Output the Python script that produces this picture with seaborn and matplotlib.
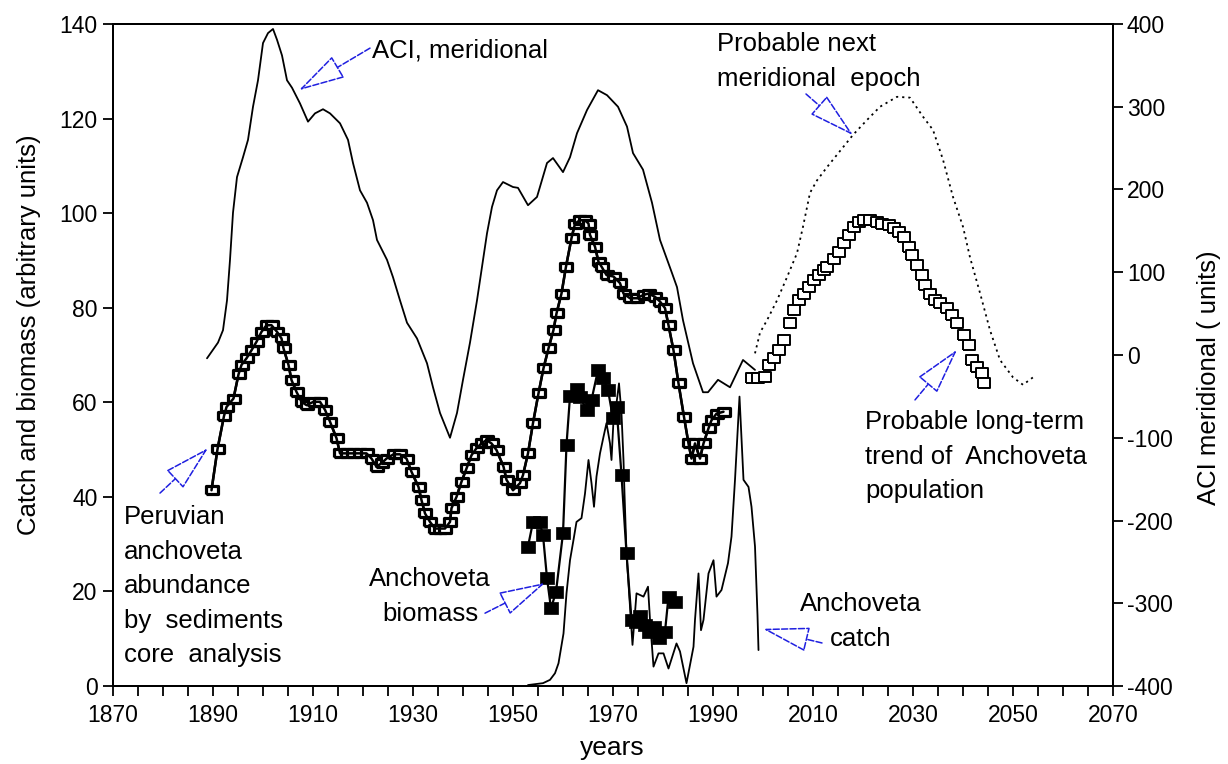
import numpy as np
import matplotlib
matplotlib.use("Agg")
import matplotlib.pyplot as plt
import seaborn as sns

# ---------------- data ----------------
# ACI meridional (right axis), observed
aci_years = [1888.8, 1891.0, 1892.0, 1892.8, 1893.4, 1894.0, 1894.8, 1896.0, 1897.0, 1898.0,
             1899.0, 1900.0, 1901.0, 1902.0, 1902.8, 1903.8, 1904.8, 1905.8, 1907.4, 1909.0,
             1910.4, 1912.0, 1913.4, 1915.4, 1917.0, 1918.0, 1919.4, 1920.8, 1922.0, 1922.8,
             1924.8, 1926.0, 1927.4, 1928.8, 1930.8, 1932.0, 1932.8, 1934.0, 1935.4, 1937.4,
             1938.8, 1940.0, 1941.4, 1942.8, 1944.8, 1945.8, 1946.8, 1948.0, 1950.0, 1951.0,
             1953.0, 1954.8, 1956.8, 1958.0, 1960.0, 1961.4, 1962.8, 1964.8, 1967.0, 1968.8,
             1971.0, 1972.8, 1974.0, 1976.0, 1977.8, 1979.4, 1981.8, 1982.8, 1984.0, 1986.0,
             1988.0, 1989.0, 1991.0, 1993.4, 1996.0, 1998.4]
aci_vals = [-4, 15, 30, 66, 115, 172, 215, 239, 260, 300,
            332, 377, 389, 394, 381, 362, 332, 323, 304, 282,
            292, 297, 292, 280, 260, 232, 199, 184, 163, 139,
            115, 94, 66, 39, 20, 2, -10, -39, -70, -100,
            -70, -30, 15, 66, 147, 179, 199, 209, 203, 202,
            181, 191, 232, 238, 221, 239, 268, 296, 320, 314,
            300, 276, 244, 224, 184, 139, 99, 82, 42, -10,
            -45, -45, -30, -39, -6, -18]

# ACI meridional, probable next epoch (dotted)
fc_years = [1998.4, 1999.4, 2000.8, 2002.8, 2004.8, 2006.8, 2008.0, 2009.4, 2010.8, 2012.8,
            2016.0, 2018.0, 2020.8, 2023.4, 2026.8, 2029.4, 2032.0, 2034.0, 2036.0, 2038.0,
            2040.0, 2041.4, 2043.4, 2045.4, 2047.4, 2050.0, 2052.0, 2054.0]
fc_vals = [2, 27, 42, 66, 94, 123, 155, 196, 211, 227,
           251, 266, 284, 300, 312, 311, 288, 272, 236, 191,
           155, 118, 75, 30, -6, -27, -36, -27]

# Peruvian anchoveta abundance by sediments core analysis
sed_years = [1889.7, 1890.9, 1892.2, 1892.7, 1894.1, 1895.1, 1895.7, 1896.7, 1897.7, 1898.7,
             1899.7, 1900.7, 1901.7, 1902.8, 1903.7, 1904.1, 1905.1, 1905.7, 1906.7, 1907.7,
             1908.7, 1910.1, 1911.4, 1912.4, 1913.4, 1914.7, 1915.4, 1916.7, 1918.0, 1919.4,
             1920.7, 1921.7, 1922.7, 1923.7, 1924.7, 1926.1, 1927.4, 1928.7, 1929.7, 1931.1,
             1931.7, 1932.4, 1933.4, 1934.4, 1935.4, 1936.4, 1937.4, 1937.7, 1938.7, 1939.7,
             1940.7, 1941.7, 1942.7, 1943.7, 1944.7, 1945.7, 1946.7, 1948.1, 1948.7, 1950.0,
             1951.4, 1952.0, 1953.0, 1954.0, 1955.1, 1956.1, 1957.1, 1958.1, 1958.7, 1959.7,
             1960.6, 1961.7, 1962.4, 1963.4, 1964.4, 1965.1, 1965.4, 1966.4, 1967.1, 1967.7,
             1968.7, 1970.1, 1971.4, 1972.1, 1973.4, 1974.7, 1976.1, 1977.1, 1978.4, 1979.4,
             1980.4, 1981.1, 1982.1, 1983.1, 1984.2, 1985.1, 1985.7, 1986.4, 1987.4, 1988.1,
             1989.1, 1989.7, 1990.7, 1992.1]
sed_vals = [41.4, 50.1, 57.1, 59.0, 60.8, 65.9, 67.9, 69.3, 71.0, 72.8,
            74.9, 76.3, 76.3, 74.9, 73.5, 71.4, 67.9, 64.7, 62.2, 60.1,
            59.4, 60.1, 60.1, 58.4, 55.9, 52.4, 49.2, 49.2, 49.2, 49.2,
            49.2, 48.1, 46.4, 47.1, 48.1, 49.0, 49.0, 48.1, 45.3, 42.1,
            39.3, 36.5, 34.7, 33.3, 33.3, 33.3, 34.7, 37.6, 40.0, 43.2,
            46.0, 48.8, 50.3, 51.3, 52.0, 51.3, 49.9, 46.4, 43.6, 41.4,
            42.9, 44.6, 49.2, 55.6, 61.9, 67.2, 71.4, 75.3, 78.8, 83.0,
            88.7, 94.7, 97.8, 98.5, 98.5, 97.8, 95.4, 92.9, 89.7, 88.7,
            86.9, 86.6, 85.2, 83.0, 82.0, 82.0, 82.7, 83.0, 82.3, 81.3,
            79.9, 76.3, 71.0, 64.0, 56.9, 51.3, 48.1, 51.3, 48.1, 51.3,
            54.5, 56.2, 57.6, 58.0]

# Probable long-term trend of Anchoveta population (open squares)
fut_years = [1997.7, 1999.0, 2000.4, 2001.1, 2002.1, 2003.1, 2004.1, 2005.4, 2006.1, 2007.1,
             2008.1, 2009.1, 2010.1, 2011.1, 2012.1, 2012.7, 2014.1, 2015.1, 2016.1, 2017.1,
             2018.1, 2019.1, 2020.1, 2021.4, 2022.7, 2023.7, 2025.1, 2026.1, 2027.1, 2028.1,
             2029.1, 2029.7, 2030.7, 2031.7, 2032.4, 2033.4, 2034.4, 2035.4, 2036.7, 2037.7,
             2038.7, 2040.1, 2041.1, 2041.7, 2042.7, 2043.7, 2044.1]
fut_vals = [65.1, 65.1, 65.4, 67.9, 69.3, 71.0, 73.2, 76.7, 79.5, 81.6,
            83.0, 84.4, 85.9, 86.9, 88.0, 88.7, 90.4, 91.8, 93.6, 95.4,
            97.1, 98.2, 98.5, 98.5, 98.2, 97.8, 97.5, 96.8, 96.1, 95.0,
            92.9, 91.1, 89.0, 86.9, 84.8, 83.0, 81.6, 80.9, 79.9, 78.5,
            76.7, 74.2, 72.1, 68.9, 67.5, 66.1, 64.0]

# Anchoveta biomass (filled squares)
bio_years = [1953.0, 1954.0, 1955.3, 1956.0, 1956.8, 1957.6, 1958.6, 1960.0, 1960.7, 1961.4,
             1962.7, 1963.4, 1964.7, 1965.7, 1967.0, 1968.0, 1969.0, 1970.0, 1970.7, 1971.7,
             1972.7, 1973.7, 1974.5, 1975.4, 1976.4, 1977.2, 1978.1, 1979.1, 1980.4, 1981.1,
             1982.4]
bio_vals = [29.5, 34.7, 34.7, 31.9, 22.8, 16.4, 19.9, 32.3, 51.0, 61.3,
            62.9, 61.2, 58.4, 60.5, 66.8, 65.1, 62.6, 56.6, 59.1, 44.6,
            28.1, 14.0, 13.5, 14.7, 12.9, 11.5, 12.5, 10.1, 11.5, 18.9,
            17.8]

# Anchoveta catch (thin line)
catch_years = [1953.0, 1956.0, 1957.4, 1958.4, 1959.1, 1960.1, 1960.7, 1961.4, 1962.1, 1962.7,
               1963.7, 1964.4, 1965.1, 1965.7, 1966.2, 1966.7, 1967.4, 1968.1, 1968.7, 1969.4,
               1969.7, 1970.1, 1970.7, 1971.2, 1971.7, 1972.1, 1972.3, 1972.7, 1973.4, 1973.9,
               1974.7, 1976.1, 1977.0, 1977.4, 1978.1, 1979.1, 1980.1, 1981.1, 1982.7, 1983.4,
               1984.7, 1986.1, 1986.4, 1987.1, 1987.6, 1988.1, 1989.1, 1990.1, 1990.7, 1991.7,
               1993.0, 1993.7, 1994.4, 1995.3, 1996.1, 1997.1, 1997.7, 1998.4, 1998.9, 1999.1]
catch_vals = [0.2, 0.6, 1.3, 2.7, 4.8, 11.1, 19.6, 26.6, 30.9, 34.7,
              35.5, 40.7, 47.8, 42.9, 37.9, 44.3, 49.2, 52.7, 55.6, 51.3,
              47.8, 56.2, 59.8, 64.0, 57.6, 47.8, 40.7, 28.1, 16.8, 8.7,
              19.6, 18.9, 21.0, 14.0, 4.1, 6.9, 6.9, 3.7, 9.0, 7.3,
              0.6, 8.3, 14.0, 23.8, 11.8, 14.0, 23.8, 26.6, 18.9, 20.3,
              26.0, 31.6, 43.6, 61.2, 43.6, 42.1, 37.9, 29.5, 15.0, 7.6]

x_tick_years = list(range(1870, 2071, 5))
x_label_years = list(range(1870, 2071, 20))
left_ticks = list(range(0, 141, 20))
right_ticks = list(range(-400, 401, 100))

# ---------------- style ----------------
sns.set_theme(style="ticks")
plt.rcParams['font.family'] = ['Liberation Sans', 'DejaVu Sans']
plt.rcParams.update({
    'text.color': 'black', 'axes.labelcolor': 'black',
    'xtick.color': 'black', 'ytick.color': 'black',
    'axes.edgecolor': 'black', 'axes.linewidth': 1.4,
    'axes.unicode_minus': False,
})

fig = plt.figure(figsize=(12.28, 7.64), dpi=100)
ax = fig.add_axes([113 / 1228, 1 - 686 / 764, 1000 / 1228, 662 / 764])
ax2 = ax.twinx()

rect_wide = [(-1.5, -1), (1.5, -1), (1.5, 1), (-1.5, 1), (-1.5, -1)]
rect_mid = [(-1.25, -1), (1.25, -1), (1.25, 1), (-1.25, 1), (-1.25, -1)]

# sediment series: markers then line on top
sns.lineplot(x=sed_years, y=sed_vals, ax=ax, sort=False, estimator=None,
             color='black', lw=1.8, marker=rect_wide, markersize=8.6,
             mfc='white', mec='black', mew=2.3, zorder=3)
sns.lineplot(x=sed_years, y=sed_vals, ax=ax, sort=False, estimator=None,
             color='black', lw=1.8, zorder=4)

# future trend open squares
sns.scatterplot(x=fut_years, y=fut_vals, ax=ax, marker=rect_mid, s=85,
                facecolor='white', edgecolor='black', linewidth=1.4, zorder=3)

# catch
sns.lineplot(x=catch_years, y=catch_vals, ax=ax, sort=False, estimator=None,
             color='black', lw=1.3, zorder=2)

# biomass
sns.lineplot(x=bio_years, y=bio_vals, ax=ax, sort=False, estimator=None,
             color='black', lw=1.6, marker=rect_mid, markersize=10,
             mfc='black', mec='black', mew=0.5, zorder=3)

# ACI
sns.lineplot(x=aci_years, y=aci_vals, ax=ax2, sort=False, estimator=None,
             color='black', lw=1.3)
sns.lineplot(x=fc_years, y=fc_vals, ax=ax2, sort=False, estimator=None,
             color='black', lw=1.3, linestyle=(0, (1.2, 2.2)))

# ---------------- axes ----------------
ax.set_xlim(1870, 2070)
ax.set_ylim(0, 140)
ax2.set_ylim(-400, 400)
ax.set_xticks(x_tick_years)
ax.set_xticklabels([str(y) if y in x_label_years else '' for y in x_tick_years])
ax.set_yticks(left_ticks)
ax2.set_yticks(right_ticks)
ax.tick_params(axis='both', direction='out', length=7, width=1.3, labelsize=16.5, pad=4,
               top=False, right=False)
ax.tick_params(axis='x', pad=6)
ax2.tick_params(axis='y', direction='out', length=7, width=1.3, labelsize=16.5, pad=3)
for a in (ax, ax2):
    for s in a.spines.values():
        s.set_visible(True)
        s.set_color('black')
        s.set_linewidth(1.4)

ax.set_xlabel('years', fontsize=19)
ax.set_ylabel('Catch and biomass (arbitrary units)', fontsize=18.5)
ax2.set_ylabel('ACI meridional ( units)', fontsize=18.5)
ax.xaxis.set_label_coords(0.499, -0.076)
ax.yaxis.set_label_coords(-0.072, 0.53)
ax2.yaxis.set_label_coords(1.084, 0.465)

# ---------------- annotations ----------------
fs = 18.5
arrow_kw = dict(arrowstyle='-|>,head_length=1.5,head_width=0.4', fc='white',
                ec='#1f1fe0', lw=1.1, ls=(0, (4, 1.5)), shrinkA=0, shrinkB=0,
                mutation_scale=20)

def arrow(tip, start):
    ax.annotate('', xy=tip, xytext=start, xycoords='data', textcoords='data',
                arrowprops=arrow_kw, zorder=6)

ax.text(1921.8, 134.5, 'ACI, meridional', fontsize=fs, ha='left', va='center')
arrow((1907.2, 126.0), (1921.4, 134.9))

ax.text(1990.8, 132.1, 'Probable next\nmeridional  epoch', fontsize=fs, ha='left',
        va='center', linespacing=1.6)
arrow((2018.0, 116.5), (2008.6, 125.2))

ax.text(1872.2, 21.1, 'Peruvian\nanchoveta\nabundance\nby  sediments\ncore  analysis',
        fontsize=fs, ha='left', va='center', linespacing=1.55)
arrow((1889.0, 50.3), (1879.4, 40.8))

ax.text(1933.4, 18.9, 'Anchoveta\nbiomass', fontsize=fs, ha='center', va='center',
        multialignment='center', linespacing=1.55)
arrow((1956.4, 21.8), (1944.4, 15.4))

ax.text(2019.6, 13.6, 'Anchoveta\ncatch', fontsize=fs, ha='center', va='center',
        multialignment='center', linespacing=1.55)
arrow((2000.0, 12.1), (2011.8, 9.1))

ax.text(2020.4, 48.5, 'Probable long-term\ntrend of  Anchoveta\npopulation', fontsize=fs,
        ha='left', va='center', linespacing=1.55)
arrow((2038.8, 71.1), (2030.4, 60.5))

fig.savefig('out.png', dpi=100)
